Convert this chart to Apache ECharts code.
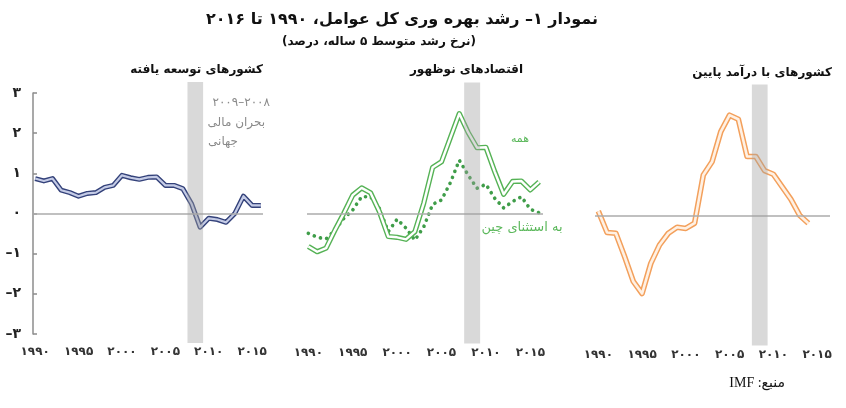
<!DOCTYPE html>
<html><head><meta charset="utf-8">
<script src="https://cdn.jsdelivr.net/npm/echarts@6/dist/echarts.min.js"></script>
<style>html,body{margin:0;padding:0;background:#fff}#c{width:846px;height:408px}</style>
</head><body><div id="c"></div>
<script>
// ---------- data ----------
const years = [1990,1991,1992,1993,1994,1995,1996,1997,1998,1999,2000,2001,2002,2003,2004,2005,2006,2007,2008,2009,2010,2011,2012,2013,2014,2015,2016];
const advanced = [0.87,0.81,0.87,0.58,0.52,0.43,0.50,0.52,0.65,0.70,0.95,0.89,0.85,0.90,0.91,0.70,0.70,0.62,0.25,-0.34,-0.12,-0.15,-0.22,0.00,0.43,0.20,0.20];
const emergingAll = [-0.81,-0.94,-0.85,-0.40,0.02,0.47,0.65,0.53,0.06,-0.56,-0.58,-0.63,-0.44,0.27,1.16,1.30,1.90,2.50,2.03,1.65,1.66,1.05,0.49,0.81,0.82,0.60,0.80];
const emergingExChina = [-0.48,-0.58,-0.62,-0.40,-0.11,0.10,0.43,0.43,0.14,-0.44,-0.13,-0.35,-0.65,-0.32,0.24,0.35,0.78,1.34,0.97,0.64,0.74,0.39,0.15,0.31,0.43,0.12,0.03];
const lowIncome = [0.12,-0.41,-0.43,-1.01,-1.63,-1.93,-1.18,-0.72,-0.43,-0.28,-0.31,-0.18,1.02,1.35,2.10,2.51,2.41,1.48,1.48,1.13,1.04,0.73,0.42,0.02,-0.18];
const crisisBand = [2007.55, 2009.35];
const xTickYears = [1990,1995,2000,2005,2010,2015];
const panelTitles = ['کشورهای توسعه یافته','اقتصادهای نوظهور','کشورهای با درآمد پایین'];
const titleText = 'نمودار ۱– رشد بهره وری کل عوامل، ۱۹۹۰ تا ۲۰۱۶';
const subtitleText = '(نرخ رشد متوسط ۵ ساله، درصد)';
const crisisNote = ['۲۰۰۸–۲۰۰۹','بحران مالی','جهانی'];
const labelAll = 'همه';
const labelExChina = 'به استثنای چین';
const sourceText = 'منبع: IMF';

// ---------- helpers ----------
const fa = v => String(v).replace(/\d/g, d => '۰۱۲۳۴۵۶۷۸۹'[d]).replace('-', '\u2013');
const rtl = s => '\u202B' + s + '\u202C';
const pairs = (vals) => vals.map((v, i) => [years[i], v]);
const FONT = '"DejaVu Sans", "Noto Sans", sans-serif';

const grids = [
  {left: 33, top: 93, width: 230, height: 241},
  {left: 307, top: 93.5, width: 236, height: 241},
  {left: 595, top: 95.5, width: 235, height: 241}
];
const xRanges = [[1989.75, 2016.25], [1989.85, 2016.43], [1989.62, 2016.48]];

const xAxes = xRanges.map((r, i) => ({
  type: 'value', gridIndex: i, min: r[0], max: r[1],
  axisLine: {show: false}, axisTick: {show: false}, splitLine: {show: false},
  axisLabel: {customValues: xTickYears, formatter: v => fa(v), margin: 12,
    fontSize: 12, fontWeight: 'bold', color: '#333', fontFamily: FONT}
}));
const yAxes = [0, 1, 2].map(i => ({
  type: 'value', gridIndex: i, min: -3, max: 3, interval: 1, show: i === 0,
  splitLine: {show: false},
  axisLine: {show: true, lineStyle: {color: '#8c8c8c', width: 1.5}},
  axisTick: {show: true, inside: true, length: 4, lineStyle: {color: '#8c8c8c', width: 1.5}},
  axisLabel: {formatter: v => fa(v), fontSize: 14, fontWeight: 'bold', color: '#222', margin: 12, fontFamily: FONT}
}));

const zeroLine = {silent: true, symbol: ['none', 'none'], label: {show: false},
  lineStyle: {color: '#ababab', width: 1.5, type: 'solid'}, data: [{yAxis: 0}], animation: false};

function band(i) {
  return {
    type: 'custom', xAxisIndex: i, yAxisIndex: i, z: 10, clip: false, silent: true,
    data: [[crisisBand[0], crisisBand[1], 0]],
    encode: {x: [0, 1], y: 2},
    renderItem(params, api) {
      const p0 = api.coord([api.value(0), 0]);
      const p1 = api.coord([api.value(1), 0]);
      const cs = params.coordSys;
      return {type: 'rect', shape: {x: p0[0], y: cs.y - 11, width: p1[0] - p0[0], height: cs.height + 20},
        style: {fill: 'rgba(160,160,160,0.4)'}};
    }
  };
}
function dbl(i, vals, outer, inner, wOut, wIn, withZero) {
  const base = {type: 'line', xAxisIndex: i, yAxisIndex: i, symbol: 'none', silent: true, data: pairs(vals)};
  const a = Object.assign({}, base, {z: 3, lineStyle: {color: outer, width: wOut, join: 'round'}});
  if (withZero) a.markLine = zeroLine;
  const b = Object.assign({}, base, {z: 4, lineStyle: {color: inner, width: wIn, join: 'round'}});
  return [a, b];
}

const series = [
  ...dbl(0, advanced, '#34427a', '#c4cbe6', 5, 2.2, true),
  band(0),
  {type: 'line', xAxisIndex: 1, yAxisIndex: 1, symbol: 'none', silent: true, z: 3,
   data: pairs(emergingExChina), lineStyle: {color: '#3f9d49', width: 3.6, type: [0.1, 6.4], cap: 'round'}},
  ...dbl(1, emergingAll, '#55b255', '#ffffff', 5.2, 2.4, true),
  band(1),
  ...dbl(2, lowIncome, '#f3a05c', '#fff1e4', 5.6, 2.6, true),
  band(2)
];

const T = (x, y, text, font, fill, align) => ({type: 'text', x, y, silent: true,
  style: {text, font, fill, textAlign: align || 'center', textVerticalAlign: 'middle'}});

const graphic = [
  T(402, 20, rtl(titleText), 'bold 16px ' + FONT, '#111'),
  T(379, 42, rtl(subtitleText), 'bold 12px ' + FONT, '#111'),
  T(263, 70, rtl(panelTitles[0]), 'bold 12px ' + FONT, '#111', 'right'),
  T(523, 70, rtl(panelTitles[1]), 'bold 12px ' + FONT, '#111', 'right'),
  T(832, 73, rtl(panelTitles[2]), 'bold 12px ' + FONT, '#111', 'right'),
  T(270, 103, rtl(crisisNote[0]), '12px ' + FONT, '#8a8a8a', 'right'),
  T(265, 123, rtl(crisisNote[1]), '12px ' + FONT, '#8a8a8a', 'right'),
  T(238, 142, rtl(crisisNote[2]), '12px ' + FONT, '#8a8a8a', 'right'),
  T(520, 139, rtl(labelAll), '11px ' + FONT, '#5cb85c'),
  T(522, 228, rtl(labelExChina), '13px ' + FONT, '#5cb85c'),
  T(785, 383, rtl(sourceText), '14px "Liberation Serif", ' + FONT, '#111', 'right')
];

const chart = echarts.init(document.getElementById('c'), null, {renderer: 'canvas'});
chart.setOption({
  animation: false,
  backgroundColor: '#fff',
  grid: grids,
  xAxis: xAxes,
  yAxis: yAxes,
  series,
  graphic
});
</script></body></html>
